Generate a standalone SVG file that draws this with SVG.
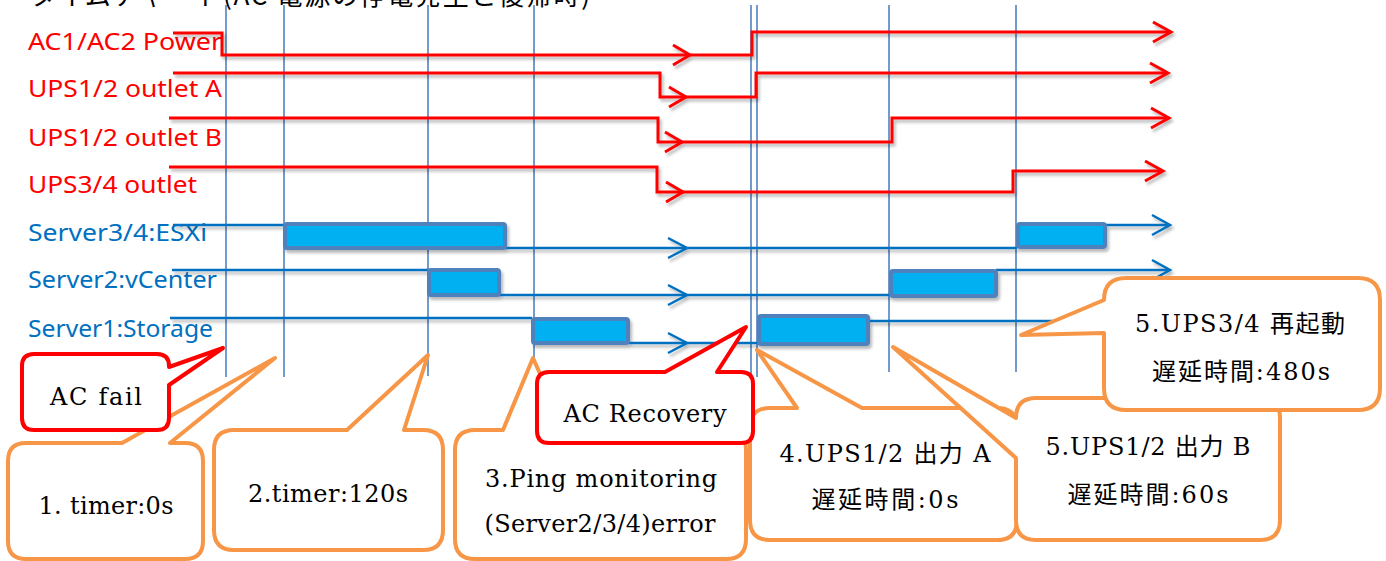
<svg xmlns="http://www.w3.org/2000/svg" width="1386" height="561" viewBox="0 0 1386 561">
<defs>
<filter id="sh" filterUnits="userSpaceOnUse" x="0" y="0" width="1386" height="561">
<feDropShadow dx="2" dy="3" stdDeviation="1.6" flood-color="#000" flood-opacity="0.28"/>
</filter>
<style>
.lbl{font-family:"Noto Sans","Liberation Sans",sans-serif;font-size:23.5px}
.red{fill:#ff0000}
.blu{fill:#0070c0}
.rl{fill:none;stroke:#ff0000;stroke-width:3;stroke-linejoin:miter}
.bl{fill:none;stroke:#0070c0;stroke-width:2.5}
.bar{fill:#00b0f0;stroke:#4f81bd;stroke-width:4;rx:2}
.vm{stroke:#4f81bd;stroke-width:1.6}
.co{fill:#fff;stroke:#f79646;stroke-width:4;stroke-linejoin:round}
.cr{fill:#fff;stroke:#ff0000;stroke-width:4;stroke-linejoin:round}
.ct{font-family:"DejaVu Serif","Liberation Serif","Noto Sans CJK JP",serif;font-size:24px;fill:#000;text-anchor:middle}
.tt{font-family:"Noto Sans CJK JP",sans-serif;font-size:26px;fill:#000}
</style>
</defs>

<g id="title">
<text class="tt" x="30" y="5" textLength="560">タイムチャート(AC 電源の停電発生と復帰時)</text>
</g>

<g id="markers">
<line class="vm" x1="226" y1="5" x2="226" y2="377"/>
<line class="vm" x1="284" y1="5" x2="284" y2="377"/>
<line class="vm" x1="428" y1="5" x2="428" y2="376"/>
<line class="vm" x1="534" y1="5" x2="534" y2="360"/>
<line class="vm" x1="751" y1="5" x2="751" y2="377"/>
<line class="vm" x1="757" y1="5" x2="757" y2="377"/>
<line class="vm" x1="889" y1="5" x2="889" y2="372"/>
<line class="vm" x1="1016" y1="5" x2="1016" y2="372"/>
</g>

<g id="row-ac-power">
<text class="lbl red" x="28" y="50" textLength="194" lengthAdjust="spacingAndGlyphs">AC1/AC2 Power</text>
<g filter="url(#sh)">
<path class="rl" d="M173,33 H222 V55 H752 V32 H1168"/>
<path class="rl" d="M673,45 L690,55 L673,65"/>
<path class="rl" d="M1153,22 L1171,32 L1153,42"/>
</g>
</g>

<g id="row-ups12-a">
<text class="lbl red" x="28" y="97" textLength="194" lengthAdjust="spacingAndGlyphs">UPS1/2 outlet A</text>
<g filter="url(#sh)">
<path class="rl" d="M173,73 H660 V97 H756 V73 H1166"/>
<path class="rl" d="M669,87 L686,97 L669,107"/>
<path class="rl" d="M1150,63 L1168,73 L1150,83"/>
</g>
</g>

<g id="row-ups12-b">
<text class="lbl red" x="28" y="146" textLength="194" lengthAdjust="spacingAndGlyphs">UPS1/2 outlet B</text>
<g filter="url(#sh)">
<path class="rl" d="M169,118 H658 V142 H892 V118 H1166"/>
<path class="rl" d="M665,132 L682,142 L665,152"/>
<path class="rl" d="M1151,108 L1169,118 L1151,128"/>
</g>
</g>

<g id="row-ups34">
<text class="lbl red" x="28" y="193" textLength="169" lengthAdjust="spacingAndGlyphs">UPS3/4 outlet</text>
<g filter="url(#sh)">
<path class="rl" d="M169,167 H657 V192 H1013 V171 H1160"/>
<path class="rl" d="M666,182 L683,192 L666,202"/>
<path class="rl" d="M1145,161 L1163,171 L1145,181"/>
</g>
</g>

<g id="row-esxi">
<text class="lbl blu" x="28" y="241" textLength="179" lengthAdjust="spacingAndGlyphs">Server3/4:ESXi</text>
<g filter="url(#sh)">
<path class="bl" d="M173,225 H284"/>
<path class="bl" d="M505,248 H1017"/>
<path class="bl" d="M1105,225 H1168"/>
<path class="bl" d="M668,238 L687,248 L668,258"/>
<path class="bl" d="M1152,215 L1170,225 L1152,235"/>
<rect class="bar" x="285" y="224" width="220" height="24"/>
<rect class="bar" x="1018" y="224" width="87" height="23"/>
</g>
</g>

<g id="row-vcenter">
<text class="lbl blu" x="28" y="288" textLength="189" lengthAdjust="spacingAndGlyphs">Server2:vCenter</text>
<g filter="url(#sh)">
<path class="bl" d="M172,270 H428"/>
<path class="bl" d="M499,295 H890"/>
<path class="bl" d="M996,270 H1168"/>
<path class="bl" d="M668,285 L687,295 L668,305"/>
<path class="bl" d="M1152,260 L1170,270 L1152,280"/>
<rect class="bar" x="429" y="270" width="70" height="25"/>
<rect class="bar" x="891" y="271" width="105" height="25"/>
</g>
</g>

<g id="row-storage">
<text class="lbl blu" x="28" y="337" textLength="185" lengthAdjust="spacingAndGlyphs">Server1:Storage</text>
<g filter="url(#sh)">
<path class="bl" d="M170,318 H532"/>
<path class="bl" d="M629,343 H758"/>
<path class="bl" d="M868,321 H1100"/>
<path class="bl" d="M668,333 L687,343 L668,353"/>
<rect class="bar" x="533" y="319" width="95" height="24"/>
<rect class="bar" x="759" y="316" width="109" height="28"/>
</g>
</g>

<g id="callout-timer0">
<path class="co" d="M26,443 H122 L275,358 L170,443 H185 Q203,443 203,461 V541 Q203,559 185,559 H26 Q8,559 8,541 V461 Q8,443 26,443 Z"/>
<text class="ct" x="106" y="514" textLength="135">1. timer:0s</text>
</g>

<g id="callout-timer120">
<path class="co" d="M234,430 H347 L428,355 L404,430 H423 Q443,430 443,450 V530 Q443,550 423,550 H234 Q214,550 214,530 V450 Q214,430 234,430 Z"/>
<text class="ct" x="328" y="502" textLength="160">2.timer:120s</text>
</g>

<g id="callout-ping">
<path class="co" d="M475,430 H503 L533,358 L565,430 H726 Q746,430 746,450 V539 Q746,559 726,559 H475 Q455,559 455,539 V450 Q455,430 475,430 Z"/>
<text class="ct" x="601" y="487" textLength="232">3.Ping monitoring</text>
<text class="ct" x="600" y="532" textLength="231">(Server2/3/4)error</text>
</g>

<g id="callout-ups12a">
<path class="co" d="M770,408 H797 L757,350 L862,408 H997 Q1017,408 1017,428 V520 Q1017,540 997,540 H770 Q750,540 750,520 V428 Q750,408 770,408 Z"/>
<text class="ct" x="885" y="462" textLength="211">4.UPS1/2 出力 A</text>
<text class="ct" x="885" y="508" textLength="147">遅延時間:0s</text>
</g>

<g id="callout-ups12b">
<path class="co" d="M1036,398 H1260 Q1280,398 1280,418 V520 Q1280,540 1260,540 H1036 Q1016,540 1016,520 V458 L893,347 L1016,418 Q1016,398 1036,398 Z"/>
<text class="ct" x="1148" y="455" textLength="205">5.UPS1/2 出力 B</text>
<text class="ct" x="1148" y="503" textLength="161">遅延時間:60s</text>
</g>

<g id="callout-ups34">
<path class="co" d="M1126,278 H1358 Q1380,278 1380,300 V388 Q1380,410 1358,410 H1126 Q1104,410 1104,388 V333 L1021,335 L1104,300 Q1104,278 1126,278 Z"/>
<text class="ct" x="1240" y="332" textLength="210">5.UPS3/4 再起動</text>
<text class="ct" x="1241" y="380" textLength="178">遅延時間:480s</text>
</g>

<g id="callout-acfail">
<path class="cr" d="M34,354 H157 Q169,354 169,366 V367 L223,348 L169,385 V418 Q169,430 157,430 H34 Q22,430 22,418 V366 Q22,354 34,354 Z"/>
<text class="ct" x="96" y="405" textLength="92">AC fail</text>
</g>

<g id="callout-acrecovery">
<path class="cr" d="M549,372 H665 L746,327 L717,372 H741 Q753,372 753,384 V431 Q753,443 741,443 H549 Q537,443 537,431 V384 Q537,372 549,372 Z"/>
<text class="ct" x="645" y="422" textLength="163">AC Recovery</text>
</g>
</svg>
